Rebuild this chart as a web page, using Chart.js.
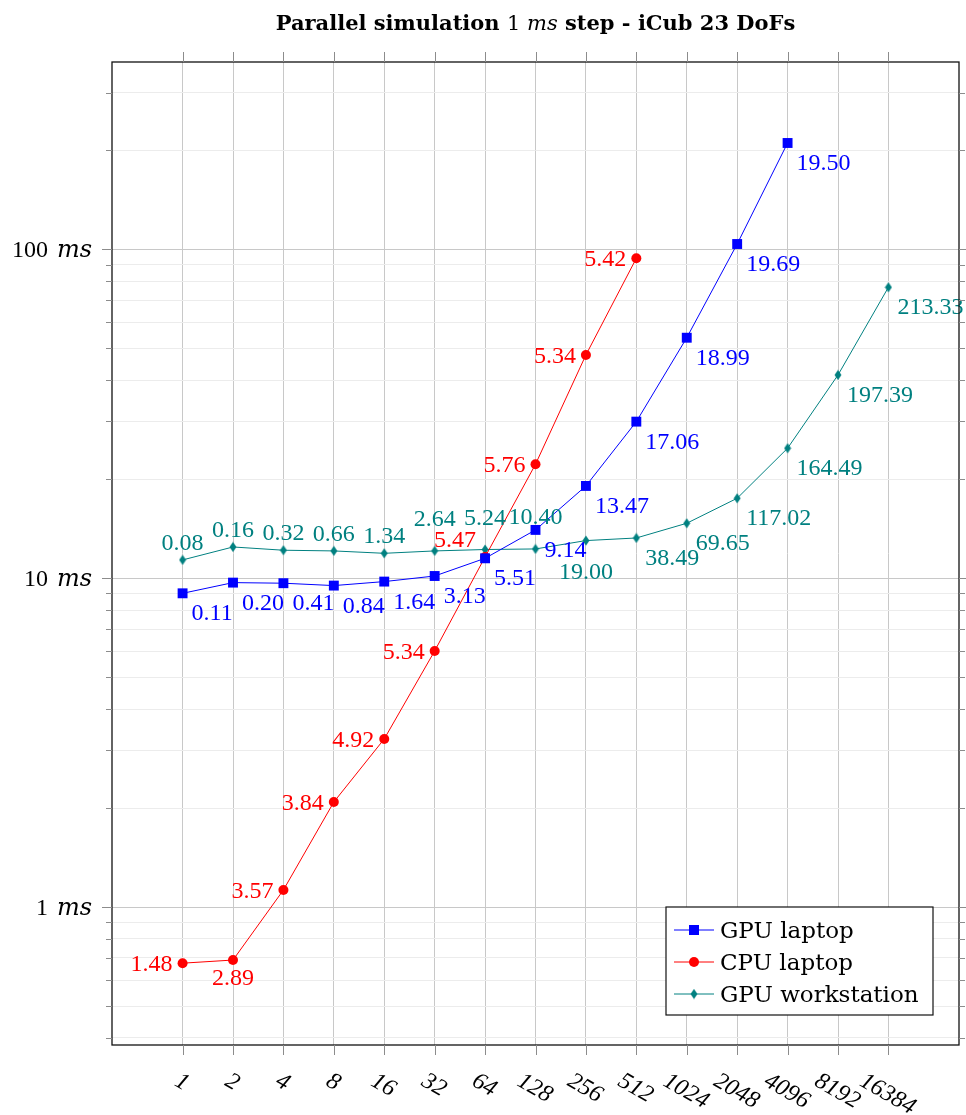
<!DOCTYPE html>
<html lang="en">
<head>
  <meta charset="UTF-8">
  <title>Parallel simulation 1 ms step - iCub 23 DoFs</title>
  <script src="https://cdn.jsdelivr.net/npm/chart.js"></script>
  <style>
    html, body { margin: 0; padding: 0; background: #fff; }
    #wrap { position: relative; width: 966px; height: 1115px; }
  </style>
</head>
<body>
  <div id="wrap"><canvas id="simChart"></canvas></div>

  <script>
    // number of parallel simulations (x axis categories)
    const agents = ['1', '2', '4', '8', '16', '32', '64', '128', '256', '512', '1024', '2048', '4096', '8192', '16384'];

    // time per step in ms
    const gpuLaptop = [9.00, 9.70, 9.66, 9.50, 9.77, 10.16, 11.50, 14.03, 19.09, 29.95, 53.9, 103.9, 210.8];
    const cpuLaptop = [0.675, 0.690, 1.127, 2.087, 3.246, 6.01, 11.61, 22.22, 47.77, 94.0];
    const gpuWorkstation = [11.37, 12.45, 12.17, 12.11, 11.91, 12.11, 12.23, 12.28, 13.02, 13.26, 14.70, 17.51, 24.86, 41.52, 76.74];

    // numbers written next to each point
    const gpuLaptopTags = ['0.11', '0.20', '0.41', '0.84', '1.64', '3.13', '5.51', '9.14', '13.47', '17.06', '18.99', '19.69', '19.50'];
    const cpuLaptopTags = ['1.48', '2.89', '3.57', '3.84', '4.92', '5.34', '5.47', '5.76', '5.34', '5.42'];
    const gpuWorkstationTags = ['0.08', '0.16', '0.32', '0.66', '1.34', '2.64', '5.24', '10.40', '19.00', '38.49', '69.65', '117.02', '164.49', '197.39', '213.33'];

    // y axis
    const yMin = 0.3806, yMax = 371.7;
    const yDecades = [0.1, 1, 10, 100];
    const yLabelValues = [1, 10, 100];

    // where each tag sits around its point
    const gpuLaptopPlaces = gpuLaptopTags.map(() => 'se');
    const cpuLaptopPlaces = ['w', 's', 'w', 'w', 'w', 'w', 'nw', 'w', 'w', 'w'];
    const gpuWorkstationPlaces = ['n', 'n', 'n', 'n', 'n', 'n2', 'n2', 'n2', 's2', 'se', 'se', 'se', 'se', 'se', 'se'];

    const place = {
      se: { dx: 9, dy: 19, align: 'left' },
      w:  { dx: -10, dy: 0, align: 'right' },
      s:  { dx: 0, dy: 17, align: 'center' },
      nw: { dx: -9, dy: -18, align: 'right' },
      n:  { dx: 0, dy: -18, align: 'center' },
      n2: { dx: 0, dy: -33, align: 'center' },
      s2: { dx: 0, dy: 30, align: 'center' }
    };

    const BLUE = '#0000ff', RED = '#ff0000', TEAL = '#008080';
    const numFont = '24px "Liberation Serif"';
    const wordFont = '23px "DejaVu Serif"';

    function isDecade(v) {
      const l = Math.log10(v);
      return Math.abs(l - Math.round(l)) < 1e-9;
    }

    // diamond marker (a bit taller than wide)
    const diamond = document.createElement('canvas');
    diamond.width = 8; diamond.height = 11;
    (function () {
      const c = diamond.getContext('2d');
      c.fillStyle = TEAL;
      c.beginPath();
      c.moveTo(4, 0.5); c.lineTo(7.5, 5.5); c.lineTo(4, 10.5); c.lineTo(0.5, 5.5);
      c.closePath(); c.fill();
    })();

    function drawMarker(ctx, kind, x, y) {
      ctx.beginPath();
      if (kind === 'square') {
        ctx.fillStyle = BLUE;
        ctx.fillRect(x - 5, y - 5, 10, 10);
      } else if (kind === 'circle') {
        ctx.fillStyle = RED;
        ctx.arc(x, y, 5, 0, Math.PI * 2);
        ctx.fill();
      } else {
        ctx.drawImage(diamond, x - 4, y - 5.5);
      }
    }

    const toPoints = vals => vals.map((v, i) => ({ x: i, y: v }));

    const decorations = {
      id: 'decorations',
      afterDatasetsDraw(chart) {
        const { ctx, chartArea: a, scales: { x, y } } = chart;
        ctx.save();

        // tags next to the points
        ctx.font = numFont;
        ctx.textBaseline = 'alphabetic';
        chart.data.datasets.forEach((ds, i) => {
          const meta = chart.getDatasetMeta(i);
          ds.tags.forEach((t, j) => {
            const pt = meta.data[j];
            const p = place[ds.places[j]];
            ctx.fillStyle = ds.borderColor;
            ctx.textAlign = p.align;
            ctx.fillText(t, pt.x + p.dx, pt.y + p.dy + 8);
          });
        });

        // frame
        ctx.strokeStyle = '#111';
        ctx.lineWidth = 1.3;
        ctx.strokeRect(a.left, a.top, a.right - a.left, a.bottom - a.top);

        // tick marks outside the frame
        ctx.strokeStyle = '#8c8c8c';
        ctx.lineWidth = 1;
        ctx.beginPath();
        x.ticks.forEach(t => {
          const px = Math.round(x.getPixelForValue(t.value)) + 0.5;
          ctx.moveTo(px, a.top - 10); ctx.lineTo(px, a.top);
          ctx.moveTo(px, a.bottom); ctx.lineTo(px, a.bottom + 10);
        });
        y.ticks.forEach(t => {
          const py = Math.round(y.getPixelForValue(t.value)) + 0.5;
          if (py < a.top + 2 || py > a.bottom - 2) return;
          const len = isDecade(t.value) ? 10 : 6;
          ctx.moveTo(a.left - len, py); ctx.lineTo(a.left, py);
          ctx.moveTo(a.right, py); ctx.lineTo(a.right + len, py);
        });
        ctx.stroke();

        // x tick labels, italic and turned clockwise
        const ang = 30 * Math.PI / 180;
        ctx.fillStyle = '#000';
        ctx.font = 'italic 24px "Liberation Serif"';
        ctx.textAlign = 'center';
        agents.forEach((lab, i) => {
          const px = x.getPixelForValue(i);
          const w = ctx.measureText(lab).width;
          const h = w * Math.sin(ang) + 16 * Math.cos(ang);
          ctx.save();
          ctx.translate(px, a.bottom + 26 + h / 2);
          ctx.rotate(ang);
          ctx.fillText(lab, 0, 8);
          ctx.restore();
        });

        // y tick labels "1 ms", "10 ms", "100 ms"
        ctx.textAlign = 'right';
        yLabelValues.forEach(v => {
          const py = y.getPixelForValue(v);
          ctx.font = 'italic 24px "DejaVu Serif"';
          const uw = ctx.measureText('ms').width;
          ctx.fillText('ms', a.left - 20, py + 8);
          ctx.font = numFont;
          ctx.fillText(String(v), a.left - 20 - uw - 9, py + 8);
        });

        // title with the math part
        const parts = [
          ['Parallel simulation ', 'bold 21px "DejaVu Serif"'],
          ['1 ', '21px "DejaVu Serif"'],
          ['ms', 'italic 21px "DejaVu Serif"'],
          [' step - iCub 23 DoFs', 'bold 21px "DejaVu Serif"']
        ];
        let total = 0;
        parts.forEach(p => { ctx.font = p[1]; total += ctx.measureText(p[0]).width; });
        let tx = (a.left + a.right) / 2 - total / 2;
        ctx.textAlign = 'left';
        parts.forEach(p => {
          ctx.font = p[1];
          ctx.fillText(p[0], tx, 29.5);
          tx += ctx.measureText(p[0]).width;
        });

        // legend box
        const lx = a.right - 293, ly = a.bottom - 138, lw = 267, lh = 108;
        ctx.fillStyle = '#fff';
        ctx.fillRect(lx, ly, lw, lh);
        ctx.strokeStyle = '#111';
        ctx.lineWidth = 1.2;
        ctx.strokeRect(lx, ly, lw, lh);
        const entries = [
          ['GPU laptop', BLUE, 'square'],
          ['CPU laptop', RED, 'circle'],
          ['GPU workstation', TEAL, 'diamond']
        ];
        entries.forEach((e, k) => {
          const ry = ly + 23 + k * 32;
          ctx.strokeStyle = e[1];
          ctx.lineWidth = 1;
          ctx.beginPath();
          ctx.moveTo(lx + 8, ry); ctx.lineTo(lx + 48, ry);
          ctx.stroke();
          drawMarker(ctx, e[2], lx + 28, ry);
          ctx.fillStyle = '#000';
          ctx.font = wordFont;
          ctx.textAlign = 'left';
          ctx.fillText(e[0], lx + 54, ry + 8);
        });

        ctx.restore();
      }
    };

    const ctx = document.getElementById('simChart').getContext('2d');
    const chart = new Chart(ctx, {
      type: 'line',
      data: {
        datasets: [
          {
            label: 'GPU laptop',
            data: toPoints(gpuLaptop),
            tags: gpuLaptopTags,
            places: gpuLaptopPlaces,
            borderColor: BLUE,
            backgroundColor: BLUE,
            borderWidth: 1,
            pointStyle: 'rect',
            pointRadius: 7,
            pointBorderWidth: 0
          },
          {
            label: 'CPU laptop',
            data: toPoints(cpuLaptop),
            tags: cpuLaptopTags,
            places: cpuLaptopPlaces,
            borderColor: RED,
            backgroundColor: RED,
            borderWidth: 1,
            pointStyle: 'circle',
            pointRadius: 5,
            pointBorderWidth: 0
          },
          {
            label: 'GPU workstation',
            data: toPoints(gpuWorkstation),
            tags: gpuWorkstationTags,
            places: gpuWorkstationPlaces,
            borderColor: TEAL,
            backgroundColor: TEAL,
            borderWidth: 1,
            pointStyle: diamond,
            pointRadius: 4,
            pointBorderWidth: 0
          }
        ]
      },
      options: {
        responsive: true,
        maintainAspectRatio: false,
        animation: false,
        layout: { padding: { top: 62, right: 6, left: 0, bottom: 0 } },
        plugins: {
          legend: { display: false },
          title: { display: false },
          tooltip: { enabled: false }
        },
        scales: {
          x: {
            type: 'linear',
            min: -1.4,
            max: 15.4,
            afterBuildTicks: s => { s.ticks = agents.map((_, i) => ({ value: i })); },
            afterFit: s => { s.height = 70; },
            ticks: { display: false },
            border: { display: false },
            grid: { color: '#c8c8c8', lineWidth: 1, drawTicks: false }
          },
          y: {
            type: 'logarithmic',
            min: yMin,
            max: yMax,
            afterBuildTicks: s => {
              const t = [];
              yDecades.forEach(d => {
                for (let m = 1; m <= 9; m++) {
                  const v = d * m;
                  if (v >= yMin && v <= yMax) t.push({ value: v });
                }
              });
              s.ticks = t;
            },
            afterFit: s => { s.width = 112; },
            ticks: { display: false },
            border: { display: false },
            grid: {
              drawTicks: false,
              lineWidth: 1,
              color: c => (c.tick && isDecade(c.tick.value)) ? '#c8c8c8' : '#ececec'
            }
          }
        }
      },
      plugins: [decorations]
    });
  </script>
</body>
</html>
